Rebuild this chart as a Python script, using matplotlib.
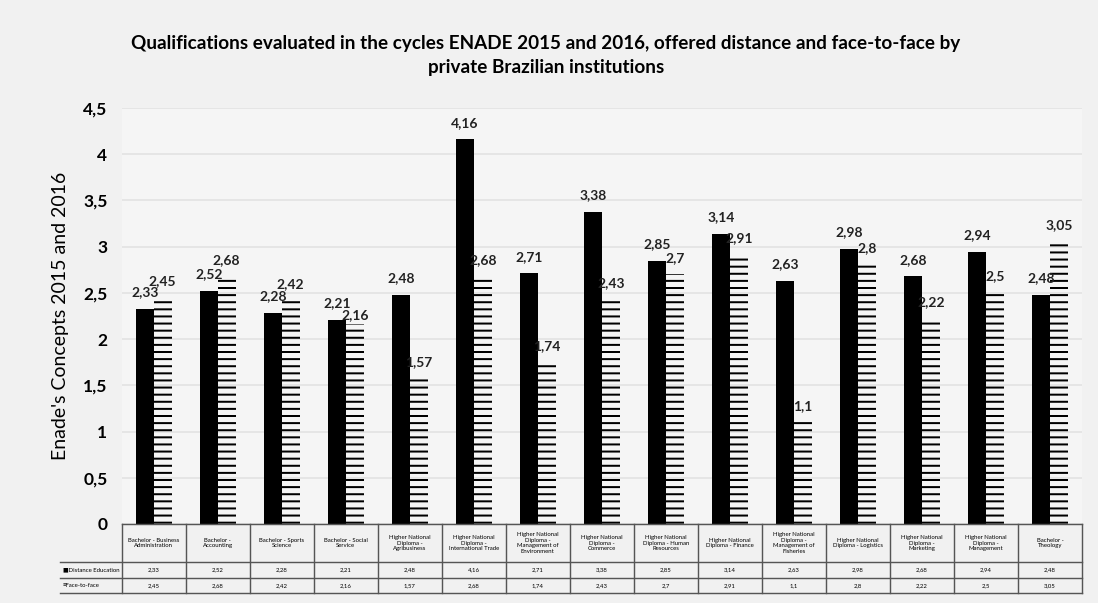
import matplotlib
matplotlib.use("Agg")
import matplotlib.pyplot as plt
import numpy as np

# values
categories = [
    "Bachelor - Business\nAdministration",
    "Bachelor -\nAccounting",
    "Bachelor - Sports\nScience",
    "Bachelor - Social\nService",
    "Higher National\nDiploma -\nAgribusiness",
    "Higher National\nDiploma -\nInternational Trade",
    "Higher National\nDiploma -\nManagement of\nEnvironment",
    "Higher National\nDiploma -\nCommerce",
    "Higher National\nDiploma - Human\nResources",
    "Higher National\nDiploma - Finance",
    "Higher National\nDiploma -\nManagement of\nFisheries",
    "Higher National\nDiploma - Logistics",
    "Higher National\nDiploma -\nMarketing",
    "Higher National\nDiploma -\nManagement",
    "Bachelor -\nTheology",
]
distance = [2.33, 2.52, 2.28, 2.21, 2.48, 4.16, 2.71, 3.38, 2.85, 3.14, 2.63, 2.98, 2.68, 2.94, 2.48]
face = [2.45, 2.68, 2.42, 2.16, 1.57, 2.68, 1.74, 2.43, 2.7, 2.91, 1.1, 2.8, 2.22, 2.5, 3.05]
series_names = ["Distance Education", "Face-to-face"]
yticks = [0, 0.5, 1, 1.5, 2, 2.5, 3, 3.5, 4, 4.5]

DPI = 128
S = 100 / DPI  # font sizes below are given as if at 100 dpi


def comma(v):
    return f"{v:g}".replace(".", ",")


plt.rcParams["font.family"] = ["Lato", "DejaVu Sans"]
plt.rcParams["hatch.linewidth"] = 2 * 72 / DPI

fig = plt.figure(figsize=(1098 / DPI, 603 / DPI), dpi=DPI, facecolor="#f1f1f1")
ax = fig.add_axes([121.7 / 1098, 1 - 524 / 603, (1082 - 121.7) / 1098, 416 / 603])
ax.set_facecolor("#f5f5f5")

x = np.arange(len(categories))
w = 0.28
b1 = ax.bar(x - w / 2, distance, w, color="black", edgecolor="black", linewidth=0)
b2 = ax.bar(x + w / 2, face, w, color="none", edgecolor="black", linewidth=0, hatch="---")

for i in range(len(categories)):
    d, f = distance[i], face[i]
    off_d, off_f = 6, 6
    # stagger labels when the two bars are almost the same height
    if abs(d - f) < 0.1:
        if d > f:
            off_f -= 4
        else:
            off_d -= 4
    for r, v, off in ((b1[i], d, off_d), (b2[i], f, off_f)):
        ax.annotate(comma(v), (r.get_x() + r.get_width() / 2, v), xytext=(0, off),
                    textcoords="offset points", ha="center", va="bottom",
                    fontsize=10 * S, fontweight="bold", color="#222222")

ax.set_xlim(-0.5, len(categories) - 0.5)
ax.set_ylim(0, 4.5)
ax.set_yticks(yticks)
ax.set_yticklabels([comma(t) for t in yticks], fontsize=12.5 * S, fontweight="bold")
ax.tick_params(axis="y", length=0, pad=8)
ax.set_xticks([])
ax.yaxis.grid(True, color="#e4e4e4", linewidth=1)
ax.set_axisbelow(True)
for s in ax.spines.values():
    s.set_visible(False)
ax.set_ylabel("Enade's Concepts 2015 and 2016", fontsize=14 * S, labelpad=8)

fig.text(0.497, 1 - 55 / 603,
         "Qualifications evaluated in the cycles ENADE 2015 and 2016, offered distance and face-to-face by\n"
         "private Brazilian institutions",
         ha="center", va="center", fontsize=13.6 * S, fontweight="bold", linespacing=1.5)

# data table under the bars
trans = ax.get_xaxis_transform()
rows_y = [0, -38 / 416, -54 / 416, -69 / 416]
left = -0.5 - (121.7 - 60) / 64
lc = "#555555"
ax.plot([-0.5, len(categories) - 0.5], [rows_y[0]] * 2, transform=trans, color=lc, lw=0.8, clip_on=False)
for yy in rows_y[1:]:
    ax.plot([left, len(categories) - 0.5], [yy, yy], transform=trans, color=lc, lw=0.8, clip_on=False)
for xb in np.arange(len(categories) + 1) - 0.5:
    ax.plot([xb, xb], [rows_y[0], rows_y[-1]], transform=trans, color=lc, lw=0.8, clip_on=False)

for i, cat in enumerate(categories):
    ax.text(i, (rows_y[0] + rows_y[1]) / 2, cat, transform=trans, ha="center", va="center",
            fontsize=4.3 * S, linespacing=1.1)
    ax.text(i, (rows_y[1] + rows_y[2]) / 2, comma(distance[i]), transform=trans,
            ha="center", va="center", fontsize=4.3 * S)
    ax.text(i, (rows_y[2] + rows_y[3]) / 2, comma(face[i]), transform=trans,
            ha="center", va="center", fontsize=4.3 * S)

ax.text(left + 0.04, (rows_y[1] + rows_y[2]) / 2, "\u25a0" + series_names[0], transform=trans,
        ha="left", va="center", fontsize=4.3 * S, family=["Lato", "DejaVu Sans"])
ax.text(left + 0.04, (rows_y[2] + rows_y[3]) / 2, "\u2261" + series_names[1], transform=trans,
        ha="left", va="center", fontsize=4.3 * S, family=["Lato", "DejaVu Sans"])

fig.savefig("out.png", dpi=DPI, facecolor=fig.get_facecolor())
